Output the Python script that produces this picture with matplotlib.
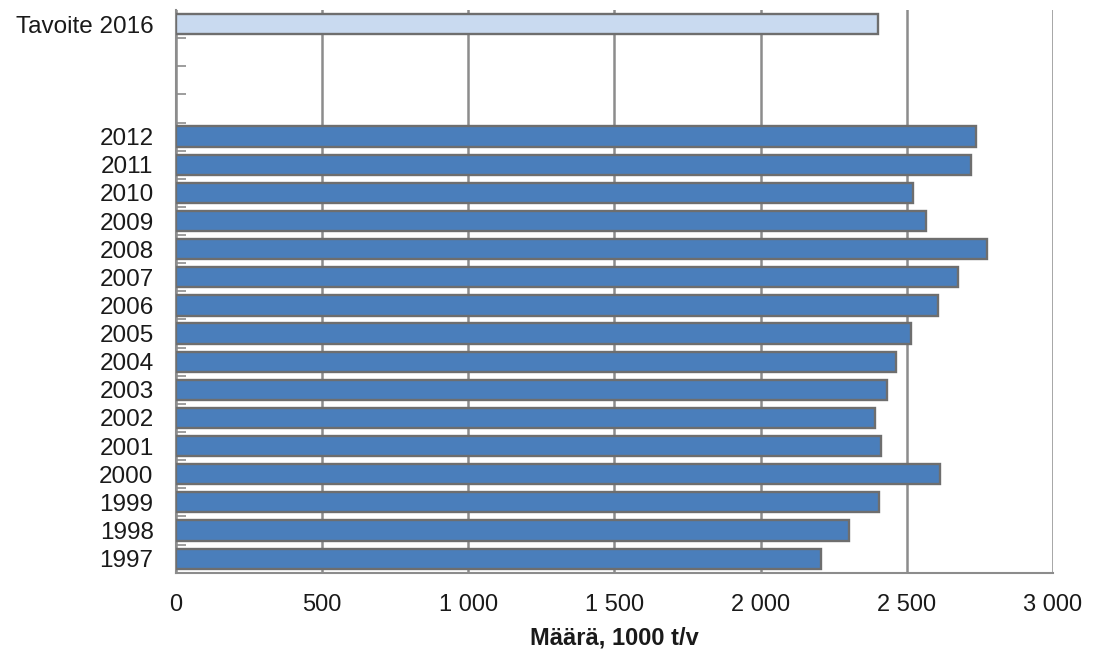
import matplotlib
matplotlib.use("Agg")
import matplotlib.pyplot as plt

plt.rcParams["font.family"] = ["Liberation Sans", "DejaVu Sans"]

# annual amounts, 1000 t/v
years = ["1997", "1998", "1999", "2000", "2001", "2002", "2003", "2004",
         "2005", "2006", "2007", "2008", "2009", "2010", "2011", "2012"]
values = [2206, 2302, 2405, 2613, 2412, 2391, 2434, 2462,
          2513, 2607, 2676, 2773, 2567, 2522, 2721, 2738]
target_label = "Tavoite 2016"
target_value = 2402
xticks = [0, 500, 1000, 1500, 2000, 2500, 3000]
xtick_labels = ["0", "500", "1 000", "1 500", "2 000", "2 500", "3 000"]

BAR = "#4a7ebb"
TARGET = "#c9daf0"
EDGE = "#6e6e6e"
GRID = "#8c8c8c"
TXT = "#1a1a1a"

fig = plt.figure(figsize=(10.95, 6.54), dpi=100)
ax = fig.add_axes([0.1605, 0.1243, 0.8011, 0.8604])

ypos = list(range(len(years)))
target_pos = len(years) + 3
ax.barh(ypos, values, height=0.72, color=BAR, edgecolor=EDGE, linewidth=1.7, zorder=3)
ax.barh([target_pos], [target_value], height=0.72, color=TARGET, edgecolor=EDGE,
        linewidth=1.7, zorder=3)

ax.set_xlim(0, 3000)
ax.set_ylim(-0.5, target_pos + 0.5)
ax.set_xticks(xticks)
ax.set_xticklabels(xtick_labels, fontsize=17, color=TXT)
ax.set_yticks(ypos + [target_pos])
ax.set_yticklabels(years + [target_label], fontsize=17.5, color=TXT)
ax.set_yticks([k - 0.5 for k in range(target_pos + 1)], minor=True)
ax.tick_params(axis="x", length=0, pad=15)
ax.tick_params(axis="y", which="major", length=0, pad=16)
ax.tick_params(axis="y", which="minor", direction="in", length=7, width=1.2, color=GRID)

ax.grid(axis="x", color=GRID, linewidth=1.8, zorder=0)
for s in ("top", "right"):
    ax.spines[s].set_visible(False)
for s in ("left", "bottom"):
    ax.spines[s].set_color(GRID)
    ax.spines[s].set_linewidth(1.5)

ax.set_xlabel("Määrä, 1000 t/v", fontsize=17, fontweight="bold", color=TXT, labelpad=8)

fig.savefig("out.png", dpi=100)
